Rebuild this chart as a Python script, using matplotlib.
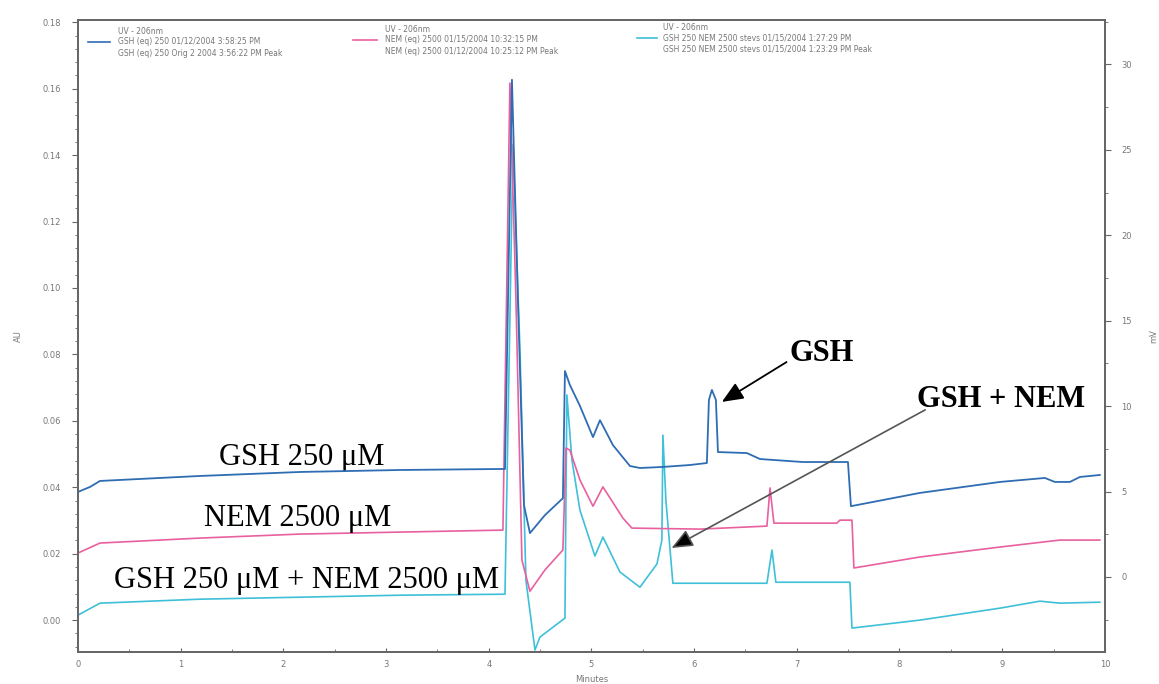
import matplotlib
matplotlib.use('Agg')
import matplotlib.pyplot as plt
from matplotlib.ticker import AutoMinorLocator
from matplotlib.lines import Line2D

# traces: retention time (min) vs absorbance (AU)
t_gsh = [0, 0.117, 0.214, 1.188, 2.16, 3.135, 4.109, 4.158, 4.226, 4.284, 4.343, 4.401,
         4.547, 4.722, 4.742, 4.79, 4.888, 5.015, 5.083, 5.209, 5.375, 5.472, 5.686, 5.959,
         6.124, 6.144, 6.173, 6.212, 6.232, 6.514, 6.641, 7.059, 7.498, 7.527, 8.199, 8.978,
         9.416, 9.513, 9.659, 9.757, 9.951]
au_gsh = [0.0386, 0.0401, 0.0419, 0.0434, 0.0446, 0.0452, 0.0455, 0.0455, 0.1627, 0.0964,
          0.0346, 0.0262, 0.0316, 0.0367, 0.0750, 0.0708, 0.0645, 0.0551, 0.0602, 0.0527,
          0.0464, 0.0458, 0.0461, 0.0467, 0.0473, 0.0663, 0.0693, 0.0663, 0.0506, 0.0503,
          0.0485, 0.0476, 0.0476, 0.0343, 0.0383, 0.0416, 0.0428, 0.0416, 0.0416, 0.0431,
          0.0437]

t_nem = [0, 0.214, 1.188, 2.16, 3.135, 4.138, 4.206, 4.265, 4.323, 4.401, 4.547, 4.722,
         4.752, 4.79, 4.888, 5.015, 5.112, 5.307, 5.394, 6.056, 6.709, 6.739, 6.777, 7.39,
         7.42, 7.537, 7.556, 8.199, 8.978, 9.562, 9.951]
au_nem = [0.0202, 0.0232, 0.0247, 0.0259, 0.0265, 0.0271, 0.1617, 0.0964, 0.0181, 0.0087,
          0.0151, 0.0211, 0.0518, 0.0512, 0.0422, 0.0343, 0.0401, 0.0307, 0.0277, 0.0274,
          0.0283, 0.0398, 0.0292, 0.0292, 0.0301, 0.0301, 0.0157, 0.0190, 0.0220, 0.0241,
          0.0241]

t_mix = [0, 0.214, 1.188, 2.16, 3.135, 4.158, 4.236, 4.304, 4.362, 4.45, 4.499, 4.742,
         4.761, 4.81, 4.888, 5.034, 5.112, 5.277, 5.472, 5.638, 5.686, 5.696, 5.725, 5.793,
         6.709, 6.758, 6.796, 7.517, 7.537, 8.199, 8.978, 9.367, 9.562, 9.951]
au_mix = [0.0015, 0.0051, 0.0063, 0.0069, 0.0075, 0.0078, 0.1431, 0.0813, 0.0120, -0.0090,
          -0.0051, 0.0006, 0.0678, 0.0482, 0.0331, 0.0193, 0.0250, 0.0145, 0.0099, 0.0169,
          0.0241, 0.0557, 0.0361, 0.0111, 0.0111, 0.0211, 0.0114, 0.0114, -0.0024, 0.0000,
          0.0036, 0.0057, 0.0051, 0.0054]

au_ticks = [0.00, 0.02, 0.04, 0.06, 0.08, 0.10, 0.12, 0.14, 0.16, 0.18]
mv_ticks = [0, 5, 10, 15, 20, 25, 30]
min_ticks = list(range(0, 11))

legend_rows = [
    ['UV - 206nm', 'GSH (eq) 250 01/12/2004 3:58:25 PM', 'GSH (eq) 250 Orig 2 2004 3:56:22 PM Peak'],
    ['UV - 206nm', 'NEM (eq) 2500 01/15/2004 10:32:15 PM', 'NEM (eq) 2500 01/12/2004 10:25:12 PM Peak'],
    ['UV - 206nm', 'GSH 250 NEM 2500 stevs 01/15/2004 1:27:29 PM', 'GSH 250 NEM 2500 stevs 01/15/2004 1:23:29 PM Peak'],
]

C_GSH = '#2f6db3'; C_NEM = '#e8609f'; C_MIX = '#3fc0d8'
C_AX = '#666666'; C_TXT = '#777777'

fig = plt.figure(figsize=(11.59, 6.84), dpi=100, facecolor='white')
ax = fig.add_axes([0.0673, 0.0468, 0.886, 0.924])

ax.plot(t_gsh, au_gsh, color=C_GSH, lw=1.3, zorder=4)
ax.plot(t_nem, au_nem, color=C_NEM, lw=1.2, zorder=3)
ax.plot(t_mix, au_mix, color=C_MIX, lw=1.2, zorder=2)

ax.set_xlim(0, 10); ax.set_ylim(-0.0096, 0.1807)
ax.set_xticks(min_ticks); ax.set_xticklabels([str(v) for v in min_ticks])
ax.set_yticks(au_ticks); ax.set_yticklabels([f'{v:.2f}' for v in au_ticks])
ax.xaxis.set_minor_locator(AutoMinorLocator(2))
ax.yaxis.set_minor_locator(AutoMinorLocator(5))
ax.tick_params(which='both', colors=C_AX, labelcolor=C_TXT, labelsize=6)
ax.tick_params(axis='y', which='major', length=4, pad=8)
ax.tick_params(axis='y', which='minor', length=2)
ax.tick_params(axis='x', which='major', length=3, pad=6, direction='in')
ax.tick_params(axis='x', which='minor', length=2, direction='in')
for s in ax.spines.values():
    s.set_color(C_AX); s.set_linewidth(1.3)
ax.set_ylabel('AU', fontsize=6, color=C_TXT, labelpad=14)
ax.set_xlabel('Minutes', fontsize=6, color=C_TXT, labelpad=4)

ax2 = ax.twinx()
ax2.set_ylim(-4.39, 32.6)
ax2.set_yticks(mv_ticks); ax2.set_yticklabels([str(v) for v in mv_ticks])
ax2.yaxis.set_minor_locator(AutoMinorLocator(2))
ax2.tick_params(which='both', colors=C_AX, labelcolor=C_TXT, labelsize=6)
ax2.tick_params(which='major', length=4, pad=8)
ax2.set_ylabel('mV', fontsize=6, color=C_TXT, labelpad=12)
for s in ax2.spines.values():
    s.set_color(C_AX); s.set_linewidth(1.3)

# trace labels
serif = ['Liberation Serif', 'DejaVu Serif']
ax.text(2.18, 0.049, 'GSH 250 \u03bcM', ha='center', va='center', fontsize=22, family=serif)
ax.text(2.14, 0.0307, 'NEM 2500 \u03bcM', ha='center', va='center', fontsize=22, family=serif)
ax.text(2.23, 0.012, 'GSH 250 \u03bcM + NEM 2500 \u03bcM', ha='center', va='center',
        fontsize=22, family=serif, zorder=5)
ax.text(7.24, 0.0804, 'GSH', ha='center', va='center', fontsize=22, family=serif, fontweight='bold')
ax.text(8.99, 0.0663, 'GSH + NEM', ha='center', va='center', fontsize=22, family=serif,
        fontweight='bold')

ax.annotate('', xy=(6.27, 0.0657), xytext=(6.90, 0.0777),
            arrowprops=dict(arrowstyle='-|>,head_length=1.3,head_width=0.55', color='black',
                            lw=1.3, shrinkA=0, shrinkB=0), zorder=6)
ax.annotate('', xy=(5.78, 0.0217), xytext=(8.25, 0.0633),
            arrowprops=dict(arrowstyle='-|>,head_length=1.3,head_width=0.55', color='#555555',
                            fc='black', ec='#555555', lw=1.2, shrinkA=0, shrinkB=0), zorder=6)

# legend block drawn in figure pixels
W, H = 1159, 684
cols = [(88, 110, 118, 31, C_GSH), (353, 377, 385, 29, C_NEM), (637, 657, 663, 27, C_MIX)]
for (x0, x1, xt, y0, c), rows in zip(cols, legend_rows):
    fig.add_artist(Line2D([x0 / W, x1 / W], [1 - (y0 + 11) / H] * 2, color=c, lw=1.2))
    for i, line in enumerate(rows):
        fig.text(xt / W, 1 - (y0 + 11 * i) / H, line, fontsize=5.5, color=C_TXT,
                 ha='left', va='center')

fig.savefig('out.png', dpi=100, facecolor='white')
